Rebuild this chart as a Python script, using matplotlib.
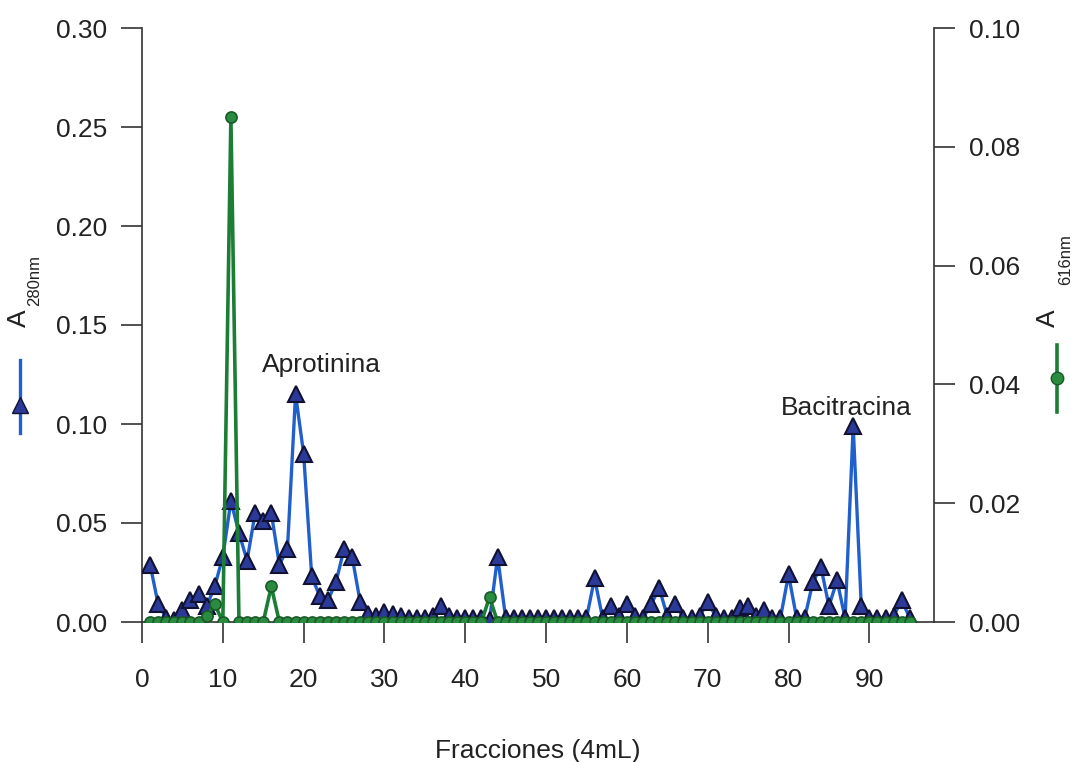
import numpy as np
import matplotlib
matplotlib.use('Agg')
import matplotlib.pyplot as plt
from matplotlib.lines import Line2D

plt.rcParams['font.family'] = ['Liberation Sans', 'DejaVu Sans']

# fraction numbers
fractions = np.arange(1, 96)

# A280nm (left axis), one value per fraction 1..95
a280 = [0.029, 0.009, 0.002, 0.001, 0.006, 0.011, 0.014, 0.008, 0.018, 0.033,
        0.061, 0.045, 0.031, 0.055, 0.051, 0.055, 0.029, 0.037, 0.115, 0.085,
        0.023, 0.013, 0.011, 0.020, 0.037, 0.033, 0.010, 0.004, 0.003, 0.005,
        0.004, 0.003, 0.002, 0.002, 0.002, 0.003, 0.008, 0.003, 0.002, 0.002,
        0.002, 0.002, 0.001, 0.033, 0.002, 0.002, 0.002, 0.002, 0.002, 0.002,
        0.002, 0.002, 0.002, 0.002, 0.002, 0.022, 0.002, 0.008, 0.003, 0.009,
        0.003, 0.002, 0.009, 0.017, 0.003, 0.009, 0.002, 0.002, 0.003, 0.010,
        0.003, 0.002, 0.002, 0.007, 0.008, 0.003, 0.006, 0.002, 0.002, 0.024,
        0.002, 0.002, 0.020, 0.028, 0.008, 0.021, 0.002, 0.099, 0.008, 0.002,
        0.002, 0.002, 0.003, 0.011, 0.002]

# A616nm (right axis), zero except a few fractions
a616 = [0.0] * 95
a616_peaks = {8: 0.001, 9: 0.003, 11: 0.085, 16: 0.006, 43: 0.0042}
for k, v in a616_peaks.items():
    a616[k - 1] = v

annotations = [('Aprotinina', 22.2, 0.130), ('Bacitracina', 87.1, 0.108)]

W, H = 1080, 762
fig = plt.figure(figsize=(W / 100, H / 100), dpi=100)
ax = fig.add_axes([142 / W, 1 - 622 / H, (934 - 142) / W, (622 - 28) / H])
ax2 = ax.twinx()

blue_line = '#2160cc'
blue_face = '#2b3a98'
green_line = '#1c7d34'
green_face = '#2a8c40'

ax.plot(fractions, a280, color=blue_line, lw=2.4, marker='^', ms=12,
        mfc=blue_face, mec='#111133', mew=1.5, zorder=3)
ax2.plot(fractions, a616, color=green_line, lw=2.6, marker='o', ms=8,
         mfc=green_face, mec='#1a5a28', mew=1.2, zorder=3)

ax.set_xlim(0, 98)
ax.set_ylim(0, 0.30)
ax2.set_ylim(0, 0.10)
ax.set_xticks(range(0, 91, 10))
ax.set_yticks(np.arange(0, 0.301, 0.05))
ax2.set_yticks(np.arange(0, 0.101, 0.02))
ax.yaxis.set_major_formatter(plt.FormatStrFormatter('%.2f'))
ax2.yaxis.set_major_formatter(plt.FormatStrFormatter('%.2f'))

for a in (ax, ax2):
    a.spines['top'].set_visible(False)
    for s in a.spines.values():
        s.set_color('#333333')
        s.set_linewidth(1.2)
    a.tick_params(direction='out', length=15, width=1.2, color='#333333',
                  labelsize=19, pad=10, labelcolor='#222222')
ax.tick_params(axis='x', pad=18)
ax2.spines['left'].set_visible(False)
ax2.spines['bottom'].set_visible(False)
ax.spines['right'].set_visible(False)

ax.set_xlabel('Fracciones (4mL)', fontsize=19, labelpad=34, color='#222222')

for label, x, y in annotations:
    ax.text(x, y, label, fontsize=19, ha='center', va='center', color='#222222')

# axis titles with legend-style keys
fig.text(19 / W, 1 - 318 / H, 'A', rotation=90, fontsize=19, ha='center', va='center',
         color='#222222')
fig.text(35 / W, 1 - 281 / H, '280nm', rotation=90, fontsize=12, ha='center', va='center',
         color='#222222')
fig.add_artist(Line2D([20 / W, 20 / W], [1 - 360 / H, 1 - 433 / H],
                      transform=fig.transFigure, color=blue_line, lw=2.4))
fig.add_artist(Line2D([20 / W], [1 - 405 / H], transform=fig.transFigure,
                      marker='^', ms=12, mfc=blue_face, mec='#111133', lw=0))

fig.text(1048 / W, 1 - 318 / H, 'A', rotation=90, fontsize=19, ha='center', va='center',
         color='#222222')
fig.text(1066 / W, 1 - 260 / H, '616nm', rotation=90, fontsize=12, ha='center', va='center',
         color='#222222')
fig.add_artist(Line2D([1057 / W, 1057 / W], [1 - 345 / H, 1 - 412 / H],
                      transform=fig.transFigure, color=green_line, lw=2.6))
fig.add_artist(Line2D([1057 / W], [1 - 378 / H], transform=fig.transFigure,
                      marker='o', ms=9, mfc=green_face, mec='#1a5a28', lw=0))

fig.savefig('out.png', dpi=100)
